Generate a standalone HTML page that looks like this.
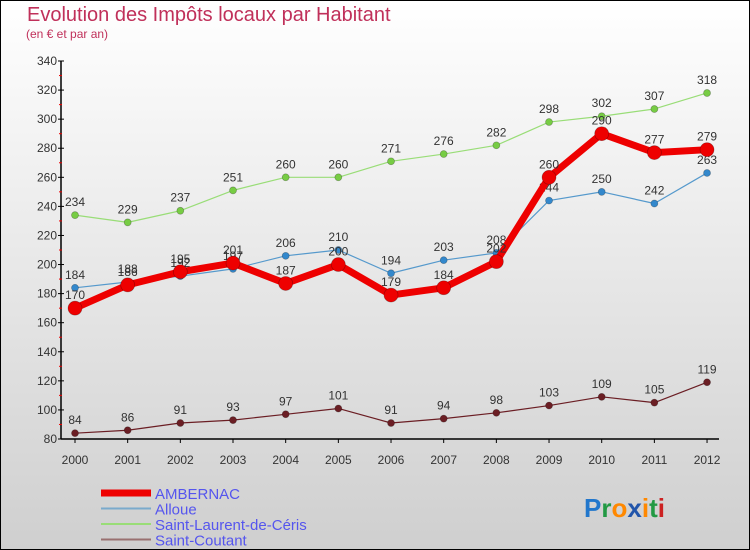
<!DOCTYPE html>
<html><head><meta charset="utf-8">
<style>
body{margin:0;}
#wrap{position:relative;width:748px;height:548px;border:1px solid #000;background:linear-gradient(#ffffff,#cfcfcf);font-family:"Liberation Sans",sans-serif;overflow:hidden;}
.t{position:absolute;color:#c0305a;}
</style></head><body>
<div id="wrap">
<div class="t" style="left:26px;top:3px;font-size:20px;">Evolution des Impôts locaux par Habitant</div>
<div class="t" style="left:25px;top:26px;font-size:12px;">(en € et par an)</div>
<svg id="chart" width="748" height="548" style="position:absolute;left:0;top:0"></svg>
</div>
<script>
const years=["2000","2001","2002","2003","2004","2005","2006","2007","2008","2009","2010","2011","2012"];
const yTicks=[80,100,120,140,160,180,200,220,240,260,280,300,320,340];
const ambernac=[170,186,195,201,187,200,179,184,202,260,290,277,279];
const alloue=[184,188,192,197,206,210,194,203,208,244,250,242,263];
const laurent=[234,229,237,251,260,260,271,276,282,298,302,307,318];
const coutant=[84,86,91,93,97,101,91,94,98,103,109,105,119];
const NS="http://www.w3.org/2000/svg";
const svg=document.getElementById('chart');
function X(i){return 74+i*52.67;}
function Y(v){return 438-(v-80)*(378/260);}
function mk(t,a){const e=document.createElementNS(NS,t);for(const k in a)e.setAttribute(k,a[k]);svg.appendChild(e);return e;}
let ax=mk('line',{x1:60,y1:Y(340),x2:60,y2:Y(80),stroke:'#000','stroke-width':1.5});


let bx=mk('line',{x1:60,y1:Y(80),x2:718,y2:Y(80),stroke:'#000','stroke-width':1.5});


yTicks.forEach(v=>{
 mk('line',{x1:57,y1:Y(v),x2:63,y2:Y(v),stroke:'#000'});
 if(v<340)mk('line',{x1:58,y1:Y(v+10),x2:61,y2:Y(v+10),stroke:'#e00'});
 const t=mk('text',{x:56,y:Y(v)+4,'text-anchor':'end','font-size':12,fill:'#333'});t.textContent=v;
 
 
});
years.forEach((y,i)=>{
 mk('line',{x1:X(i),y1:Y(80),x2:X(i),y2:Y(80)+4,stroke:'#000'});
 const t=mk('text',{x:X(i),y:Y(80)+25,'text-anchor':'middle','font-size':12,fill:'#333'});t.textContent=y;
 
 
});
function series(d,color,w,r,dot,name){
 const p=mk('polyline',{points:d.map((v,i)=>X(i)+','+Y(v)).join(' '),fill:'none',stroke:color,'stroke-width':w,'stroke-linejoin':'round'});
 
 
 d.forEach((v,i)=>{
  const c=mk('circle',{cx:X(i),cy:Y(v),r:r,fill:dot,stroke:'rgba(0,0,0,0.3)','stroke-width':0.7});
  
  
  const t=mk('text',{x:X(i),y:Y(v)-9,'text-anchor':'middle','font-size':12,fill:'#333'});t.textContent=v;
  
  
 });
}
series(coutant,'#6b1e24',1.2,3.5,'#6b1e24','saint-coutant');
series(laurent,'#99dd77',1.2,3.5,'#77cc44','saint-laurent');
series(alloue,'#5599cc',1.2,3.5,'#3388cc','alloue');
series(ambernac,'#ee0000',7,7,'#ee0000','ambernac');
const legNames=["AMBERNAC","Alloue","Saint-Laurent-de-Céris","Saint-Coutant"];
const legCols=['#ee0000','#7aaacc','#99dd77','#997070'];
const legW=[7,2,2,2];
legNames.forEach((n,i)=>{
 const y=492+i*15.5;
 const l=mk('line',{x1:100,y1:y,x2:150,y2:y,stroke:legCols[i],'stroke-width':legW[i]});
 
 
 const t=mk('text',{x:154,y:y+6,'font-size':15,fill:'#5555ee'});t.textContent=n;
 
 
});
const logo=mk('text',{x:583,y:516,'font-size':26,'font-weight':'bold'});


[['P','#2277cc'],['r','#229944'],['o','#ff8800'],['x','#2255aa'],['i','#ff8800'],['t','#229944'],['i','#cc2222']].forEach(([c,col])=>{
 const s=document.createElementNS(NS,'tspan');s.setAttribute('fill',col);s.textContent=c;logo.appendChild(s);
});
</script>
</body></html>
